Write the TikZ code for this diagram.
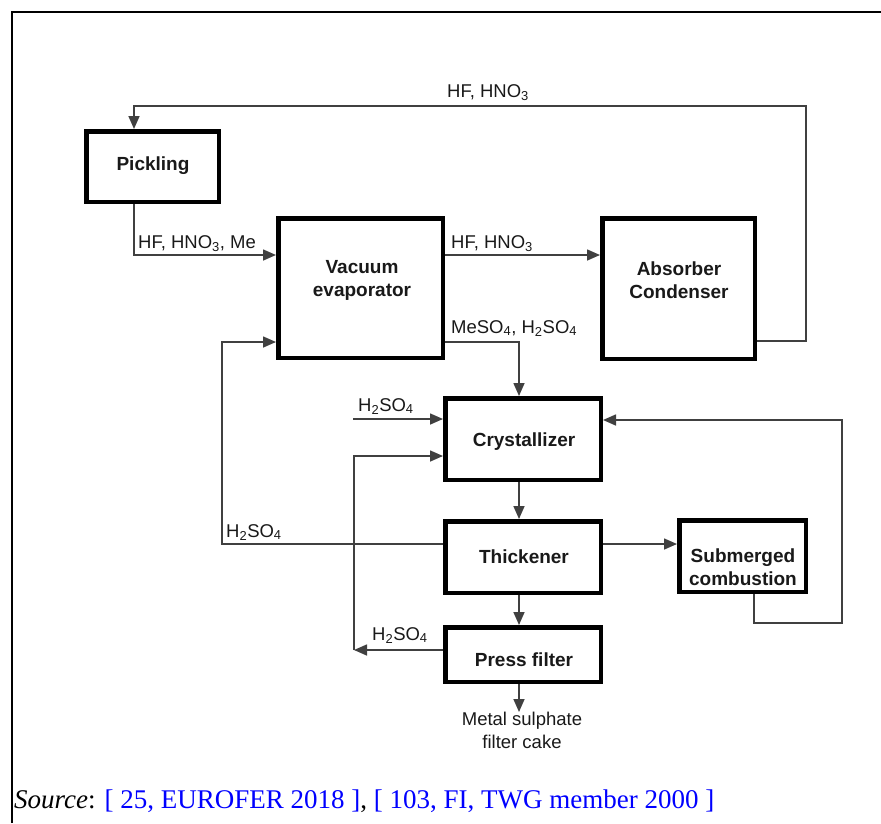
\documentclass[tikz,border=0pt]{standalone}
\usepackage{fontspec}
\setmainfont{Liberation Sans}
\newfontfamily\srcfont{Liberation Serif}
\usetikzlibrary{arrows.meta}

\definecolor{linkblue}{RGB}{0,0,255}

\tikzset{
  unitbox/.style={draw=black, line width=4.5pt, inner sep=0pt, fill=white},
  unittext/.style={font=\fontsize{19}{23}\selectfont\bfseries, text=black!90, align=center},
  pipe/.style={draw=black!75, line width=1.6pt},
  flow/.style={pipe, -{Triangle[length=13pt,width=11pt]}},
  stream/.style={font=\fontsize{18.5}{21}\selectfont, text=black!90, anchor=base west, inner sep=0pt},
}

\begin{document}
\begin{tikzpicture}[x=1pt, y=-1pt]
  \useasboundingbox (0,0) rectangle (881,823);

  % ── Page frame ──
  \draw[line width=2pt] (12,823) -- (12,12) -- (881,12);

  % ── Process units ──
  \node[unitbox, minimum width=132.5pt, minimum height=70.5pt] (pick) at (152.5,166.5) {};
  \node[unitbox, minimum width=164.5pt, minimum height=139.5pt] (vac) at (360.5,288) {};
  \node[unitbox, minimum width=152.5pt, minimum height=140.5pt] (abs) at (678.5,288.5) {};
  \node[unitbox, minimum width=155.5pt, minimum height=81.5pt] (cry) at (523,439) {};
  \node[unitbox, minimum width=155.5pt, minimum height=71.5pt] (thk) at (523,557) {};
  \node[unitbox, minimum width=155.5pt, minimum height=54.5pt] (prs) at (523,654.5) {};
  \node[unitbox, minimum width=126.5pt, minimum height=71.5pt] (sub) at (742.5,556) {};

  \node[unittext] (pick-t) at (153,166) {Pickling};
  \node[unittext] (vac-t) at (362,280) {Vacuum\\evaporator};
  \node[unittext] (abs-t) at (679,280) {Absorber\\Condenser};
  \node[unittext] (cry-t) at (524,442) {Crystallizer};
  \node[unittext] (thk-t) at (524,557) {Thickener};
  \node[unittext] (prs-t) at (524,660) {Press filter};
  \node[unittext] (sub-t) at (743,567) {Submerged\\combustion};

  % ── Bend points ──
  \coordinate (ret-top) at (806,106);
  \coordinate (ret-sub) at (842,623);
  \coordinate (ret-left) at (222,342);
  \coordinate (acid-in) at (353,419);
  \coordinate (filt-out) at (354,650);

  % ── Connectors ──
  \draw[flow] ([xshift=-18.5pt]pick.south) |- ([yshift=33pt]vac.west);
  \draw[flow] ([yshift=33pt]vac.east) -- ([yshift=33pt]vac.east -| abs.west);
  \draw[flow] ([yshift=-52.5pt]abs.east) -| (ret-top) -| ([xshift=-18.5pt]pick.north);
  \draw[flow] ([yshift=-54pt]vac.east) -| ([xshift=-4pt]cry.north);
  \foreach \a/\b in {cry/thk, thk/prs}
    \draw[flow] ([xshift=-4pt]\a.south) -- ([xshift=-4pt]\b.north);
  \draw[flow] ([yshift=13pt]thk.east) -- ([yshift=13pt]thk.east -| sub.west);
  \draw[flow] ([xshift=11.5pt]sub.south) |- (ret-sub) |- ([yshift=19pt]cry.east);
  \draw[flow] ([yshift=13pt]thk.west) -| (ret-left) -- ([yshift=-54pt]vac.west);
  \draw[flow] (acid-in) -- (acid-in -| cry.west);
  \draw[flow] ([yshift=4.5pt]prs.west) -- (filt-out);
  \draw[flow] (filt-out) |- ([yshift=-17pt]cry.west);

  % ── Stream labels ──
  \node[stream] (s-top) at (447,97) {HF, HNO\textsubscript{3}};
  \node[stream] (s-pick) at (138,248) {HF, HNO\textsubscript{3}, Me};
  \node[stream] (s-vac) at (451,248) {HF, HNO\textsubscript{3}};
  \node[stream] (s-mes) at (451,333) {MeSO\textsubscript{4}, H\textsubscript{2}SO\textsubscript{4}};
  \node[stream] (s-acid) at (358,411) {H\textsubscript{2}SO\textsubscript{4}};
  \node[stream] (s-thk) at (226,537) {H\textsubscript{2}SO\textsubscript{4}};
  \node[stream] (s-prs) at (372,640) {H\textsubscript{2}SO\textsubscript{4}};

  % ── Product ──
  \node[font=\fontsize{18.5}{23}\selectfont, text=black!90, align=center, anchor=north, inner sep=0pt]
    (cake) at (522,712) {Metal sulphate\\filter cake};
  \draw[flow] ([xshift=-4pt]prs.south) -- ([xshift=-4pt]prs.south |- cake.north);

  % ── Source ──
  \node[font=\srcfont\fontsize{27}{30}\selectfont, anchor=base west, inner sep=0pt] (src) at (14,808)
    {\textit{Source}: \textcolor{linkblue}{[ 25, EUROFER 2018 ]}, \textcolor{linkblue}{[ 103, FI, TWG member 2000 ]}};
\end{tikzpicture}
\end{document}
